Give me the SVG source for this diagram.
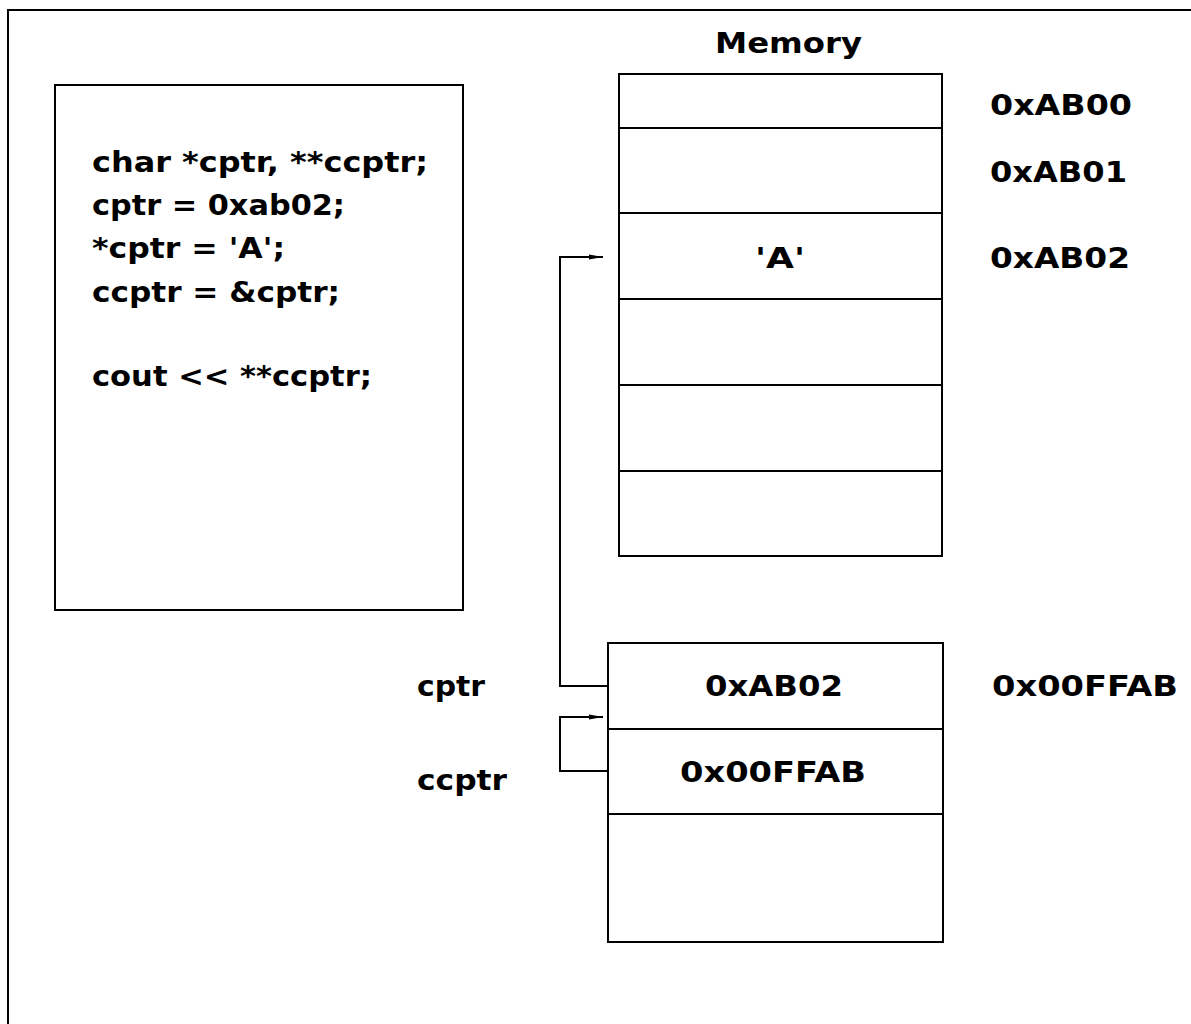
<svg xmlns="http://www.w3.org/2000/svg" width="1191" height="1024" viewBox="0 0 1191 1024">
<defs>
<style>
.t{font-family:"DejaVu Sans","Liberation Sans",Arial,sans-serif;font-weight:bold;font-size:28px;fill:#000}
.box{fill:none;stroke:#000;stroke-width:2}
.ln{stroke:#000;stroke-width:2}
.con{fill:none;stroke:#000;stroke-width:2}
</style>
<marker id="ah" viewBox="0 0 14 6" refX="14" refY="3" markerWidth="14" markerHeight="6" markerUnits="userSpaceOnUse" orient="auto">
<path d="M0,0.5 L14,3 L0,5.5 Z" fill="#000"/>
</marker>
</defs>
<rect width="1191" height="1024" fill="#fff"/>
<g id="frame"><path d="M8,1024 V10 H1191" class="con"/></g>
<g id="code">
<rect x="55" y="85" width="408" height="525" class="box"/>
<text class="t" x="92" y="172" textLength="336" lengthAdjust="spacingAndGlyphs">char *cptr, **ccptr;</text>
<text class="t" x="92" y="215" textLength="253" lengthAdjust="spacingAndGlyphs">cptr = 0xab02;</text>
<text class="t" x="92" y="258" textLength="193" lengthAdjust="spacingAndGlyphs">*cptr = 'A';</text>
<text class="t" x="92" y="302" textLength="248" lengthAdjust="spacingAndGlyphs">ccptr = &amp;cptr;</text>
<text class="t" x="92" y="386" textLength="280" lengthAdjust="spacingAndGlyphs">cout &lt;&lt; **ccptr;</text>
</g>
<g id="memory">
<text class="t" x="715" y="53" textLength="147" lengthAdjust="spacingAndGlyphs">Memory</text>
<rect x="619" y="74" width="323" height="482" class="box"/>
<line x1="619" y1="128" x2="942" y2="128" class="ln"/>
<line x1="619" y1="213" x2="942" y2="213" class="ln"/>
<line x1="619" y1="299" x2="942" y2="299" class="ln"/>
<line x1="619" y1="385" x2="942" y2="385" class="ln"/>
<line x1="619" y1="471" x2="942" y2="471" class="ln"/>
<text class="t" x="755" y="268" textLength="50" lengthAdjust="spacingAndGlyphs">'A'</text>
<text class="t" x="990" y="115" textLength="142" lengthAdjust="spacingAndGlyphs">0xAB00</text>
<text class="t" x="990" y="182" textLength="137" lengthAdjust="spacingAndGlyphs">0xAB01</text>
<text class="t" x="990" y="268" textLength="140" lengthAdjust="spacingAndGlyphs">0xAB02</text>
</g>
<g id="pointers">
<rect x="608" y="643" width="335" height="299" class="box"/>
<line x1="608" y1="729" x2="943" y2="729" class="ln"/>
<line x1="608" y1="814" x2="943" y2="814" class="ln"/>
<text class="t" x="705" y="696" textLength="138" lengthAdjust="spacingAndGlyphs">0xAB02</text>
<text class="t" x="680" y="782" textLength="186" lengthAdjust="spacingAndGlyphs">0x00FFAB</text>
<text class="t" x="992" y="696" textLength="186" lengthAdjust="spacingAndGlyphs">0x00FFAB</text>
<text class="t" x="417" y="696" textLength="68" lengthAdjust="spacingAndGlyphs">cptr</text>
<text class="t" x="417" y="790" textLength="90" lengthAdjust="spacingAndGlyphs">ccptr</text>
</g>
<g id="connectors">
<path d="M608,686 H560 V257 H603" class="con" marker-end="url(#ah)"/>
<path d="M608,771 H560 V717 H603" class="con" marker-end="url(#ah)"/>
</g>
</svg>
